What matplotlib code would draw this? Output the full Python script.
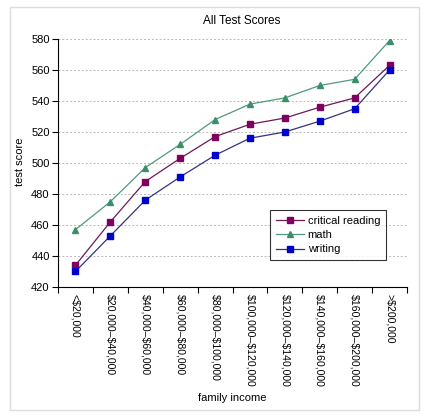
import numpy as np
import matplotlib.pyplot as plt
from matplotlib.patches import Rectangle

plt.rcParams['font.family'] = ['Liberation Sans', 'DejaVu Sans']
plt.rcParams['text.parse_math'] = False

# %% data
incomes = ['<$20,000', '$20,000\u2013$40,000', '$40,000\u2013$60,000',
           '$60,000\u2013$80,000', '$80,000\u2013$100,000',
           '$100,000\u2013$120,000', '$120,000\u2013$140,000',
           '$140,000\u2013$160,000', '$160,000\u2013$200,000', '>$200,000']
reading = [434, 462, 488, 503, 517, 525, 529, 536, 542, 563]
math = [457, 475, 497, 512, 528, 538, 542, 550, 554, 579]
writing = [430, 453, 476, 491, 505, 516, 520, 527, 535, 560]

fig = plt.figure(figsize=(4.27, 4.19), dpi=100)
fig.patches.append(Rectangle((10/427, 1-410/419), 409/427, 403/419,
                             transform=fig.transFigure, fill=False,
                             edgecolor='#dcdcdc', linewidth=1))
ax = fig.add_axes([58/427, 1-287/419, 349/427, 248/419])

x = np.arange(len(incomes))
ax.plot(x, reading, '-s', color='#6a1a5a', markerfacecolor='#800060',
        markeredgecolor='#800060', markersize=4, linewidth=0.9,
        label='critical reading')
ax.plot(x, math, '-^', color='#4f9a7c', markerfacecolor='#3a8f6a',
        markeredgecolor='#3a8f6a', markersize=4.5, linewidth=0.9,
        label='math')
ax.plot(x, writing, '-s', color='#33337a', markerfacecolor='#0000cc',
        markeredgecolor='#0000cc', markersize=5, linewidth=0.9,
        label='writing')

ax.set_xlim(-0.5, len(incomes) - 0.5)
ax.set_ylim(420, 580)
ax.set_yticks(np.arange(420, 581, 20))
ax.set_xticks(np.arange(-0.5, len(incomes), 1))
ax.set_xticklabels([])
ax.set_xticks(x, minor=True)
ax.set_xticklabels(incomes, minor=True, rotation=-90, fontsize=7.6)
ax.tick_params(axis='x', which='minor', length=0, pad=5)
ax.tick_params(axis='x', which='major', length=4, direction='out')
ax.tick_params(axis='y', labelsize=8, length=4, direction='out', pad=2)

for v in np.arange(440, 581, 20):
    ax.axhline(v, color='#b8b8b8', linestyle=(0, (2, 2)), linewidth=0.7,
               zorder=0)

for s in ['top', 'right']:
    ax.spines[s].set_visible(False)
for s in ['left', 'bottom']:
    ax.spines[s].set_color('black')
    ax.spines[s].set_linewidth(0.8)

fig.text(242/427, 1-21/419, 'All Test Scores', ha='center', va='center',
         fontsize=8.5)
fig.text(20/427, 1-162/419, 'test score', ha='center', va='center',
         rotation=90, fontsize=8)
fig.text(232/427, 1-398/419, 'family income', ha='center', va='center',
         fontsize=8)

leg = ax.legend(loc='upper left', bbox_to_anchor=((270-58)/349, (287-210)/248),
                fontsize=8, frameon=True, fancybox=False, edgecolor='black',
                borderpad=0.5, labelspacing=0.4, handlelength=2.6,
                handletextpad=0.3, borderaxespad=0)
leg.get_frame().set_linewidth(0.8)

fig.savefig('out.png', dpi=100)
